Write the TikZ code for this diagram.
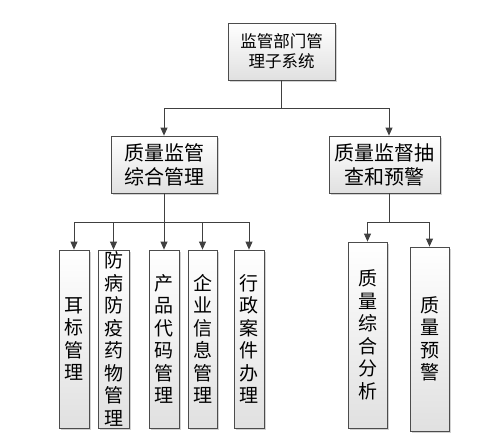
\documentclass[tikz,border=0pt]{standalone}
\usepackage{fontspec}
\setmainfont{Noto Sans CJK SC}
\usetikzlibrary{arrows.meta,shadows}

\tikzset{
  box/.style={draw=black!70, line width=0.8pt, top color=white, bottom color=black!12,
    drop shadow={shadow xshift=1.5pt, shadow yshift=-1.5pt, fill=black!35, opacity=0.5},
    inner sep=0pt, align=center},
  hbox/.style={box, font=\fontsize{20}{24}\selectfont, minimum width=106pt, minimum height=57pt},
  vbox/.style={box, font=\fontsize{19}{22.5}\selectfont, minimum width=30pt, minimum height=178pt},
  link/.style={line width=0.8pt, draw=black!75},
  arr/.style={link, -{Triangle[length=8pt,width=7pt]}},
}

\begin{document}
\begin{tikzpicture}[x=1pt,y=-1pt]
\useasboundingbox (0,0) rectangle (489,439);

%% top
\node[box, font=\fontsize{16.5}{20}\selectfont, minimum width=107pt, minimum height=57pt]
  (top) at (281.5,51.5) {监管部门管\\理子系统};

%% second level
\node[hbox] (zh) at (164,164.5) {质量监管\\综合管理};
\node[hbox, minimum width=111pt] (cy) at (384.5,164.5) {质量监督抽\\查和预警};

%% third level, left
\node[vbox] (eb) at (74,339) {耳\\标\\管\\理};
\node[vbox, minimum width=31pt] (fb) at (113.5,339) {防\\病\\防\\疫\\药\\物\\管\\理};
\node[vbox] (cp) at (164,339) {产\\品\\代\\码\\管\\理};
\node[vbox, minimum width=29pt] (qy) at (202.5,339) {企\\业\\信\\息\\管\\理};
\node[vbox] (xz) at (249,339) {行\\政\\案\\件\\办\\理};

%% third level, right
\node[vbox, minimum width=39pt, minimum height=186pt] (fx) at (367.5,335) {质\\量\\综\\合\\分\\析};
\node[vbox, minimum width=39pt, minimum height=184pt] (yj) at (429.5,339) {质\\量\\预\\警};

%% junctions
\coordinate (j1) at (281.5,108);
\coordinate (j2) at (164,222);
\coordinate (j3) at (389,222);

%% edges
\draw[link] (top.south) -- (j1);
\draw[arr] (j1) -| (zh.north);
\draw[arr] (j1) -| ([xshift=4.5pt]cy.north);

\draw[link] (zh.south) -- (j2);
\draw[arr] (j2) -| (eb.north);
\draw[arr] (j2) -| (fb.north);
\draw[arr] (j2) -- (cp.north);
\draw[arr] (j2) -| (qy.north);
\draw[arr] (j2) -| (xz.north);

\draw[link] ([xshift=4.5pt]cy.south) -- (j3);
\draw[arr] (j3) -| (fx.north);
\draw[arr] (j3) -| (yj.north);
\end{tikzpicture}
\end{document}
